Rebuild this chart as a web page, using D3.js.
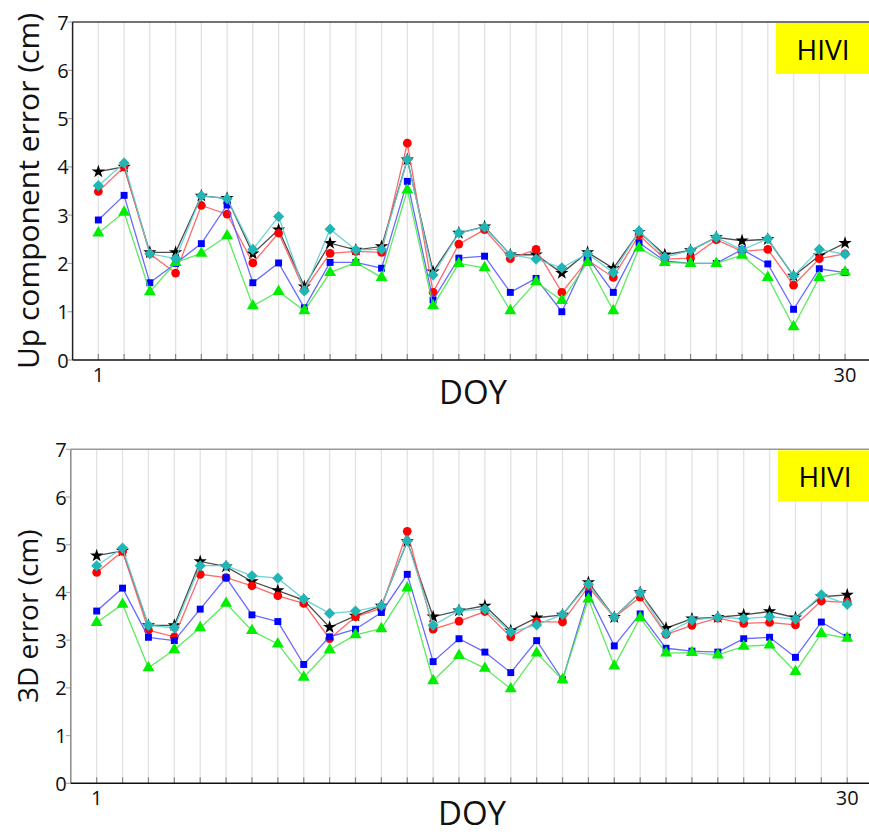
<!DOCTYPE html>
<html>
<head>
<meta charset="utf-8">
<script src="https://cdn.jsdelivr.net/npm/d3@7"></script>
<style>
  html, body { margin: 0; padding: 0; background: #fff; }
  svg { display: block; font-family: "Open Sans", "DejaVu Sans", sans-serif; }
</style>
</head>
<body>
<svg id="chart" width="869" height="836"></svg>
<script>
// ---------- DATA ----------
const days = d3.range(1, 31);
const xTickLabels = [1, 30];
const yTicks = [0, 1, 2, 3, 4, 5, 6, 7];
const seriesNames = ["star", "circle", "square", "triangle", "diamond"];
const stationLabel = "HIVI";

// Up component error (cm)
const upStar     = [3.90,4.00,2.23,2.23,3.40,3.35,2.20,2.70,1.52,2.42,2.28,2.35,4.15,1.83,2.63,2.76,2.18,2.18,1.80,2.23,1.90,2.65,2.18,2.27,2.54,2.47,2.50,1.74,2.16,2.42];
const upCircle   = [3.49,4.00,2.20,1.80,3.20,3.02,2.01,2.63,1.45,2.21,2.25,2.23,4.49,1.40,2.40,2.70,2.10,2.29,1.40,2.07,1.71,2.59,2.09,2.11,2.49,2.25,2.29,1.55,2.10,2.20];
const upSquare   = [2.90,3.41,1.60,2.00,2.41,3.21,1.60,2.01,1.08,2.02,2.02,1.90,3.70,1.24,2.11,2.15,1.40,1.69,1.00,2.13,1.40,2.43,2.05,2.00,2.00,2.29,1.99,1.05,1.89,1.81];
const upTriangle = [2.63,3.06,1.41,2.02,2.21,2.57,1.12,1.42,1.02,1.81,2.02,1.71,3.52,1.12,2.00,1.91,1.02,1.62,1.23,2.02,1.02,2.32,2.02,2.00,2.00,2.17,1.71,0.69,1.71,1.82];
const upDiamond  = [3.61,4.08,2.20,2.10,3.40,3.34,2.29,2.97,1.43,2.71,2.28,2.29,4.15,1.76,2.63,2.75,2.18,2.09,1.91,2.20,1.81,2.67,2.13,2.27,2.54,2.28,2.51,1.74,2.29,2.19];

// 3D error (cm)
const d3Star     = [4.77,4.87,3.31,3.31,4.65,4.54,4.23,4.04,3.84,3.27,3.51,3.72,5.07,3.49,3.62,3.72,3.20,3.47,3.53,4.21,3.48,4.00,3.25,3.45,3.48,3.53,3.60,3.47,3.91,3.95];
const d3Circle   = [4.42,4.86,3.21,3.07,4.38,4.31,4.14,3.93,3.77,3.03,3.49,3.67,5.28,3.23,3.40,3.60,3.07,3.39,3.38,4.12,3.48,3.90,3.12,3.31,3.46,3.35,3.37,3.32,3.82,3.79];
const d3Square   = [3.61,4.09,3.06,2.99,3.65,4.31,3.53,3.39,2.49,3.07,3.23,3.58,4.38,2.55,3.03,2.75,2.32,2.99,2.17,3.97,2.88,3.55,2.83,2.77,2.75,3.03,3.06,2.64,3.38,3.06];
const d3Triangle = [3.37,3.75,2.42,2.80,3.26,3.77,3.20,2.92,2.22,2.80,3.11,3.24,4.09,2.15,2.68,2.41,1.98,2.73,2.17,3.86,2.46,3.47,2.73,2.74,2.69,2.87,2.90,2.34,3.14,3.04];
const d3Diamond  = [4.56,4.93,3.31,3.26,4.56,4.56,4.35,4.30,3.86,3.56,3.61,3.72,5.08,3.31,3.62,3.65,3.17,3.32,3.54,4.17,3.48,4.00,3.14,3.42,3.48,3.45,3.49,3.44,3.95,3.75];

// ---------- STYLES ----------
const styles = {
  star:     { marker: "#000000", line: "#3a3a3a", symbol: d3.symbolStar,   size: 55, rot: 0 },
  circle:   { marker: "#ff0000", line: "#ff5a5a", symbol: d3.symbolCircle, size: 60, rot: 0 },
  square:   { marker: "#0000ff", line: "#5a5aff", symbol: d3.symbolSquare, size: 48, rot: 0 },
  triangle: { marker: "#00ee00", line: "#4ae84a", symbol: d3.symbolTriangle, size: 62, rot: 0 },
  diamond:  { marker: "#22b5b5", line: "#5ccfcf", symbol: d3.symbolSquare, size: 62, rot: 45 }
};

const svg = d3.select("#chart");

function drawPanel(cfg) {
  const x = d3.scaleLinear().domain([0, 31]).range([cfg.x0, cfg.x31]);
  const y = d3.scaleLinear().domain([0, 7]).range([cfg.yBottom, cfg.yTop]);
  const g = svg.append("g");

  // vertical grid lines
  g.append("g").selectAll("line").data(days).join("line")
    .attr("x1", d => x(d)).attr("x2", d => x(d))
    .attr("y1", y(7)).attr("y2", y(0))
    .attr("stroke", "#e2e2e2").attr("stroke-width", 1.3);

  // station box
  g.append("rect")
    .attr("x", cfg.boxX).attr("y", y(7) + 1)
    .attr("width", 869 - cfg.boxX + 5).attr("height", cfg.boxH)
    .attr("fill", "#ffff00");
  g.append("text")
    .attr("x", cfg.boxX + 47).attr("y", y(7) + 1 + cfg.boxH / 2)
    .attr("text-anchor", "middle").attr("dominant-baseline", "central")
    .attr("font-size", 28).attr("fill", "#000").text(stationLabel);

  // x ticks (inside)
  g.append("g").selectAll("line").data(days).join("line")
    .attr("x1", d => x(d)).attr("x2", d => x(d))
    .attr("y1", y(0)).attr("y2", y(0) - 6)
    .attr("stroke", "#888").attr("stroke-width", 1.2);

  // y ticks (outside, gray)
  g.append("g").selectAll("line").data(yTicks).join("line")
    .attr("x1", x(0) - 5).attr("x2", x(0))
    .attr("y1", d => y(d)).attr("y2", d => y(d))
    .attr("stroke", "#aaa").attr("stroke-width", 1.2);

  // spines
  g.append("line").attr("x1", x(0)).attr("x2", 875).attr("y1", y(7)).attr("y2", y(7))
    .attr("stroke", cfg.topSpine).attr("stroke-width", 1.5);
  g.append("line").attr("x1", x(0)).attr("x2", x(0)).attr("y1", y(7)).attr("y2", y(0))
    .attr("stroke", cfg.sideSpine).attr("stroke-width", 1.5);
  g.append("line").attr("x1", x(0)).attr("x2", 875).attr("y1", y(0)).attr("y2", y(0))
    .attr("stroke", "#111").attr("stroke-width", 1.5);

  // y tick labels
  g.append("g").selectAll("text").data(yTicks).join("text")
    .attr("x", x(0) - 4).attr("y", d => y(d))
    .attr("text-anchor", "end").attr("dominant-baseline", "central")
    .attr("font-size", 20).attr("fill", "#111").text(d => d);

  // x tick labels
  g.append("g").selectAll("text").data(xTickLabels).join("text")
    .attr("x", d => x(d)).attr("y", y(0) + 14)
    .attr("text-anchor", "middle").attr("dominant-baseline", "central")
    .attr("font-size", 20).attr("fill", "#111").text(d => d);

  // axis titles
  g.append("text")
    .attr("transform", `translate(${cfg.yTitleX},${(y(0) + y(7)) / 2}) rotate(-90)`)
    .attr("text-anchor", "middle").attr("dominant-baseline", "central")
    .attr("font-size", cfg.yTitleSize).attr("fill", "#111").text(cfg.yTitle);
  g.append("text")
    .attr("x", cfg.doyX).attr("y", y(0) + cfg.doyDy)
    .attr("text-anchor", "middle")
    .attr("font-size", 33).attr("fill", "#111").text("DOY");

  // series
  const line = d3.line().x((d, i) => x(days[i])).y(d => y(d));
  seriesNames.forEach((name, k) => {
    const vals = cfg.series[k];
    const st = styles[name];
    g.append("path").datum(vals)
      .attr("d", line).attr("fill", "none")
      .attr("stroke", st.line).attr("stroke-width", 1.3).attr("stroke-opacity", 0.9);
    const sym = d3.symbol().type(st.symbol).size(st.size);
    g.append("g").selectAll("path").data(vals).join("path")
      .attr("d", sym)
      .attr("transform", (d, i) => `translate(${x(days[i])},${y(d)}) rotate(${st.rot})`)
      .attr("fill", st.marker);
  });
}

drawPanel({
  x0: 72.6, x31: 870.8, yTop: 22, yBottom: 360,
  boxX: 776, boxH: 51, topSpine: "#444", sideSpine: "#222",
  yTitle: "Up component error (cm)", yTitleX: 27, yTitleSize: 30, doyX: 473, doyDy: 44,
  series: [upStar, upCircle, upSquare, upTriangle, upDiamond]
});

drawPanel({
  x0: 70.8, x31: 873.1, yTop: 449.3, yBottom: 783.3,
  boxX: 778, boxH: 51, topSpine: "#999", sideSpine: "#888",
  yTitle: "3D error (cm)", yTitleX: 27, yTitleSize: 28, doyX: 472, doyDy: 42,
  series: [d3Star, d3Circle, d3Square, d3Triangle, d3Diamond]
});
</script>
</body>
</html>
